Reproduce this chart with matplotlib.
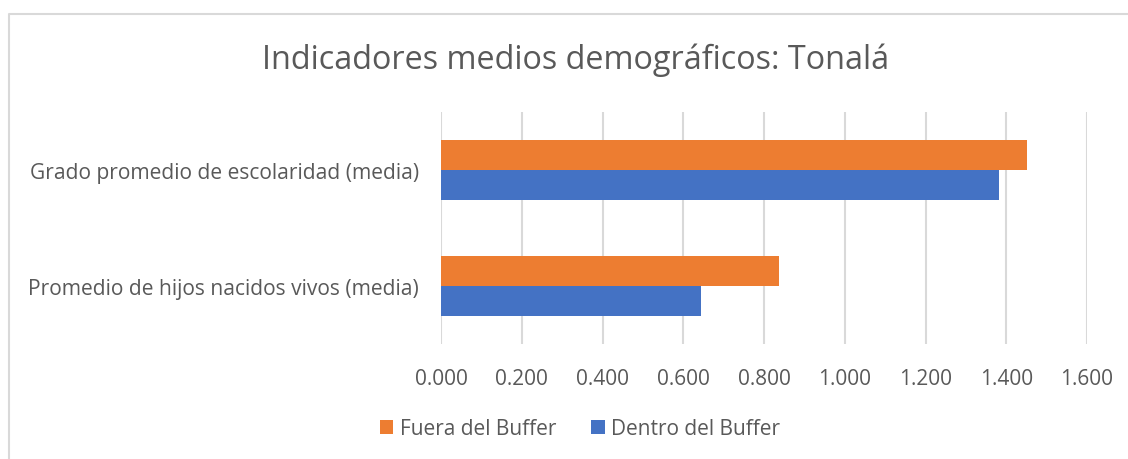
import numpy as np
import matplotlib.pyplot as plt
from matplotlib.lines import Line2D

# datos
categorias = ['Promedio de hijos nacidos vivos (media)',
              'Grado promedio de escolaridad (media)']
fuera = [0.836, 1.452]
dentro = [0.645, 1.382]
ticks = np.arange(0, 1.61, 0.2)

naranja = '#ED7D31'
azul = '#4472C4'
gris = '#595959'

plt.rcParams['font.family'] = ['Open Sans', 'DejaVu Sans']

fig = plt.figure(figsize=(11.28, 4.6), dpi=100)
ax = fig.add_axes([441 / 1128, 1 - 345 / 460, 646 / 1128, 232 / 460])

# marco del gráfico (solo borde superior e izquierdo visibles)
W, H = 1128, 460
fig.lines.append(Line2D([8.5 / W, 8.5 / W, 1], [0, 1 - 14.5 / H, 1 - 14.5 / H],
                        transform=fig.transFigure, color='#D9D9D9', linewidth=1.5))

y = np.arange(len(categorias))
h = 0.259
ax.barh(y + h / 2, fuera, height=h, color=naranja, label='Fuera del Buffer')
ax.barh(y - h / 2, dentro, height=h, color=azul, label='Dentro del Buffer')

ax.set_xlim(0, 1.6)
ax.set_ylim(-0.5, 1.5)
ax.set_xticks(ticks)
ax.set_xticklabels([f'{t:.3f}' for t in ticks])
ax.set_yticks(y)
ax.set_yticklabels(categorias)
ax.tick_params(length=0, labelsize=15, labelcolor=gris)
ax.tick_params(axis='x', pad=17)
ax.tick_params(axis='y', labelsize=15.1, pad=16)
ax.grid(axis='x', color='#D9D9D9', linewidth=1.5)
ax.set_axisbelow(True)
for s in ax.spines.values():
    s.set_visible(False)

fig.text(576 / W, 1 - 60 / H, 'Indicadores medios demográficos: Tonalá',
         ha='center', va='center', fontsize=23.3, color=gris)

leg = ax.legend(loc='center', frameon=False, ncol=2, fontsize=15,
                labelcolor=gris, handlelength=0.65, handleheight=0.65,
                handletextpad=0.3, columnspacing=1.7)
leg.set_bbox_to_anchor((580 / W, 1 - 430 / H), transform=fig.transFigure)

fig.savefig('out.png', dpi=100)
